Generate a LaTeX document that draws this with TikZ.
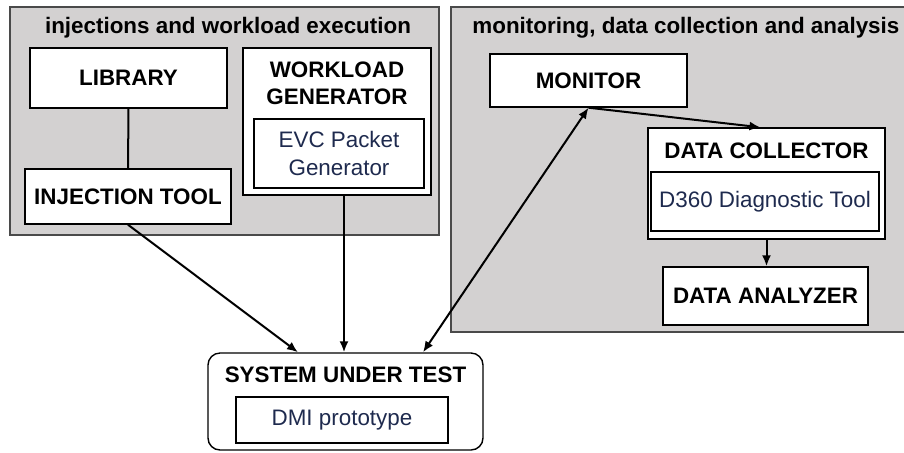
\documentclass[tikz,border=0pt]{standalone}
\usepackage{fontspec}
\setmainfont{Liberation Sans}
\usepackage{tikz}
\usepackage{xcolor}
\usetikzlibrary{arrows.meta,calc,positioning}
\definecolor{PanelGray}{HTML}{D3D1D1}
\definecolor{PanelEdge}{HTML}{4A4A4A}
\definecolor{InnerText}{HTML}{1E2A4E}
\tikzset{
  tbpanel/.style={draw=PanelEdge, fill=PanelGray, line width=0.7pt, inner sep=0pt},
  tbtitle/.style={font=\fontsize{11.2}{13.4}\selectfont\bfseries, inner sep=0pt},
  tbblock/.style={draw=black, fill=white, line width=0.7pt, align=center, inner sep=0pt, font=\fontsize{11.2}{13.4}\selectfont\bfseries},
  tbinner/.style={draw=black, fill=white, line width=0.7pt, align=center, inner sep=0pt, text=InnerText, font=\fontsize{11.2}{14}\selectfont},
  tblink/.style={line width=1pt, draw=black},
  tbarrow/.style={-{Latex[length=5.5pt,width=4.5pt]}, line width=1pt, draw=black},
  tbdarrow/.style={{Latex[length=5.5pt,width=4.5pt]}-{Latex[length=5.5pt,width=4.5pt]}, line width=1pt, draw=black}
}

\begin{document}
\begin{tikzpicture}[x=0.5pt,y=-0.5pt]
  \useasboundingbox (0,0) rectangle (904,452);
  % panels
  \node[tbpanel, minimum width=214.5pt, minimum height=114pt] (execpanel) at (224.5,121) {};
  \node[tbtitle] (exectitle) at (228,28) {injections and workload execution};
  \node[tbpanel, minimum width=229.5pt, minimum height=162.5pt] (monpanel) at (680.5,169.5) {};
  \node[tbtitle, anchor=west] (montitle) at (472,28) {monitoring, data collection and analysis};
  % left side
  \node[tbblock, minimum width=98.5pt, minimum height=30pt] (library) at (128.5,78) {LIBRARY};
  \node[tbblock, minimum width=103pt, minimum height=27.5pt] (injtool) at (128,196.5) {INJECTION TOOL};
  \node[tbblock, minimum width=94pt, minimum height=73.5pt] (wlgen) at (337,121.5) {};
  \node[tbtitle, align=center] (wltitle) at (337,83) {WORKLOAD\\GENERATOR};
  \node[tbinner, minimum width=85pt, minimum height=34.5pt] (evcgen) at (339,153.5) {EVC Packet\\Generator};
  % right side
  \node[tbblock, minimum width=98.5pt, minimum height=26.5pt] (monitor) at (588.5,80.5) {MONITOR};
  \node[tbblock, minimum width=118.5pt, minimum height=55.5pt] (collector) at (766.5,183.5) {};
  \node[tbtitle] (coltitle) at (766.5,151) {DATA COLLECTOR};
  \node[tbinner, minimum width=114pt, minimum height=29.5pt] (diagtool) at (765,201.5) {D360 Diagnostic Tool};
  \node[tbblock, minimum width=102.5pt, minimum height=29pt] (analyzer) at (765.5,296) {DATA ANALYZER};
  % system under test
  \node[tbblock, rounded corners=6pt, minimum width=137.5pt, minimum height=48.5pt] (sut) at (345.5,401.5) {};
  \node[tbtitle] (suttitle) at (345.5,375) {SYSTEM UNDER TEST};
  \node[tbinner, minimum width=106pt, minimum height=23pt] (dmiproto) at (342,420) {DMI prototype};
  % connectors
  \draw[tblink] (library.south) -- (injtool.north);
  \draw[tbarrow] (injtool.south) -- ([xshift=-23.75pt]sut.north);
  \draw[tbarrow] ([xshift=3.5pt]wlgen.south) -- ([xshift=3.5pt]wlgen.south |- sut.north);
  \draw[tbdarrow] ([xshift=38.75pt]sut.north) -- (monitor.south);
  \draw[tbarrow] (monitor.south) -- ([xshift=-3pt]collector.north);
  \draw[tbarrow] (collector.south) -- (collector.south |- analyzer.north);
\end{tikzpicture}
\end{document}
